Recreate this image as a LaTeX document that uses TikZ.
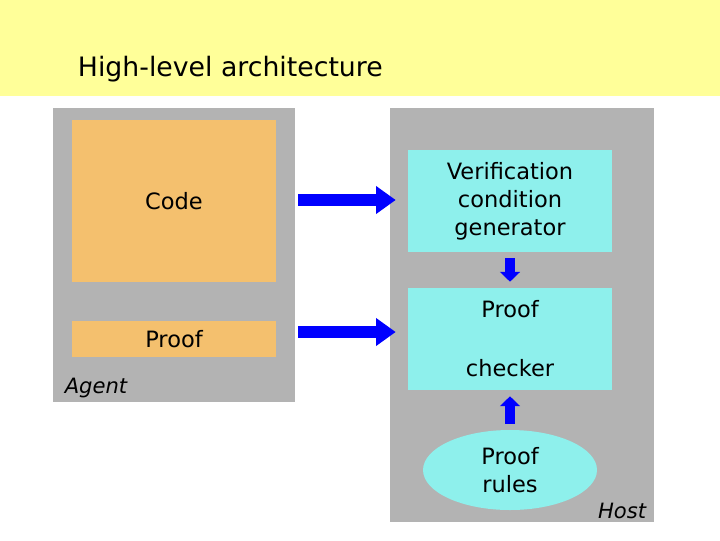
\documentclass[tikz,border=0pt]{standalone}
\usepackage{fontspec}
\setmainfont{DejaVu Sans}
\usetikzlibrary{shapes.geometric,arrows.meta}
\definecolor{band}{RGB}{255,255,153}
\definecolor{panel}{RGB}{179,179,179}
\definecolor{codeorange}{RGB}{244,192,110}
\definecolor{hostcyan}{RGB}{142,240,236}
\definecolor{arrowblue}{RGB}{0,0,255}
\tikzset{
  box/.style={draw=none,inner sep=0pt,align=center,font=\fontsize{16}{20}\selectfont},
  fat/.style={arrowblue,line width=8.5pt,-{Triangle[length=14pt,width=19pt]}},
  thin/.style={arrowblue,line width=7pt,-{Triangle[length=7pt,width=14pt]}}
}
\begin{document}
\begin{tikzpicture}[x=0.025cm,y=-0.025cm]
\useasboundingbox (0,0) rectangle (720,540);
% background
\fill[white] (0,0) rectangle (720,540);
\fill[band] (0,0) rectangle (720,96);
\node[anchor=base west,font=\fontsize{19}{23}\selectfont] (title) at (73,76) {High-level architecture};

% agent side
\fill[panel] (53,108) rectangle (295,402);
\node[box,fill=codeorange,minimum width=204*0.025cm,minimum height=162*0.025cm] (code) at (174,201) {Code};
\node[box,fill=codeorange,minimum width=204*0.025cm,minimum height=36*0.025cm] (proof) at (174,339) {Proof};
\node[font=\itshape\fontsize{15}{18}\selectfont] (agent) at (96,388) {Agent};
\coordinate (agentE1) at (298,200);
\coordinate (agentE2) at (298,332);

% host side
\fill[panel] (390,108) rectangle (654,522);
\node[box,fill=hostcyan,minimum width=204*0.025cm,minimum height=102*0.025cm] (vcg) at (510,201)
  {Verification\\condition\\generator};
\node[box,fill=hostcyan,minimum width=204*0.025cm,minimum height=102*0.025cm,font=\fontsize{16}{42}\selectfont] (checker) at (510,339)
  {Proof\\checker};
\node[box,ellipse,fill=hostcyan,minimum width=174*0.025cm,minimum height=80*0.025cm] (rules) at (510,470)
  {Proof\\rules};
\node[font=\itshape\fontsize{15}{18}\selectfont] (host) at (622,511) {Host};

% arrows
\draw[fat] (agentE1) -- ([xshift=-0.3cm]vcg.west |- agentE1);
\draw[fat] (agentE2) -- ([xshift=-0.3cm]checker.west |- agentE2);
\draw[thin] ([yshift=-0.15cm]vcg.south) -- ([yshift=0.15cm]checker.north);
\draw[thin] ([yshift=0.15cm]rules.north) -- ([yshift=-0.15cm]checker.south);
\end{tikzpicture}
\end{document}
